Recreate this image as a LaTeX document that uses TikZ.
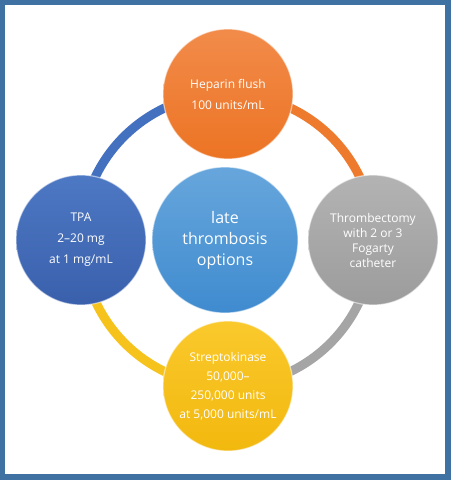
\documentclass[tikz,border=0pt]{standalone}
\usepackage{fontspec}
\setmainfont{Open Sans}
\begin{document}
\begin{tikzpicture}[x=1pt,y=-1pt,
  ballnode/.style={circle, minimum size=130pt, inner sep=0pt, text=white, align=center,
     font=\fontsize{12}{21}\selectfont},
  ringarc/.style={line width=9pt},
  rim/.style={draw=white, draw opacity=0.55, line width=1.2pt}
]
\definecolor{frameblue}{HTML}{3F71A3}
\definecolor{orangeA}{HTML}{F28B4A}\definecolor{orangeB}{HTML}{EC7424}
\definecolor{blueA}{HTML}{4D78C3}\definecolor{blueB}{HTML}{3A60AC}
\definecolor{lblueA}{HTML}{67A6DC}\definecolor{lblueB}{HTML}{3F8BCF}
\definecolor{greyA}{HTML}{B3B3B3}\definecolor{greyB}{HTML}{9C9C9C}
\definecolor{yellowA}{HTML}{FAC92C}\definecolor{yellowB}{HTML}{F2B80E}
\definecolor{ringblue}{HTML}{4470C0}
\definecolor{ringorange}{HTML}{EE7A2E}
\definecolor{ringgrey}{HTML}{A5A5A5}
\definecolor{ringyellow}{HTML}{F6C21C}
% frame
\fill[frameblue] (0,0) rectangle (451,480);
\fill[white] (5,5) rectangle (445,474);
\useasboundingbox (0,0) rectangle (451,480);
% named centres
\coordinate (ctop) at (228,94);
\coordinate (cleft) at (81,240);
\coordinate (cright) at (373,240);
\coordinate (cbot) at (228,386);
% ring arcs (behind the circles); y axis points down, so angles run clockwise on screen
\draw[ringarc, ringblue] (cleft) arc[start angle=180, end angle=270, radius=146];
\draw[ringarc, ringorange] (ctop) arc[start angle=270, end angle=360, radius=146];
\draw[ringarc, ringgrey] (cright) arc[start angle=0, end angle=90, radius=146];
\draw[ringarc, ringyellow] (cbot) arc[start angle=90, end angle=180, radius=146];
% circles
\node[ballnode, top color=orangeA, bottom color=orangeB, rim] (heparin) at (ctop)
  {Heparin flush\\100 units/mL};
\node[ballnode, top color=blueA, bottom color=blueB, rim] (tpa) at (cleft)
  {TPA\\2–20 mg\\at 1 mg/mL};
\node[ballnode, top color=greyA, bottom color=greyB, rim,
  font=\fontsize{12}{15}\selectfont] (thromb) at (cright)
  {Thrombectomy\\with 2 or 3\\Fogarty\\catheter};
\node[ballnode, top color=yellowA, bottom color=yellowB, rim,
  font=\fontsize{12}{19}\selectfont] (strepto) at (cbot)
  {Streptokinase\\50,000–\\250,000 units\\at 5,000 units/mL};
\node[ballnode, minimum size=146pt, top color=lblueA, bottom color=lblueB, rim,
  font=\fontsize{16}{21}\selectfont] (late) at (225,240)
  {late\\thrombosis\\options};
\end{tikzpicture}
\end{document}
